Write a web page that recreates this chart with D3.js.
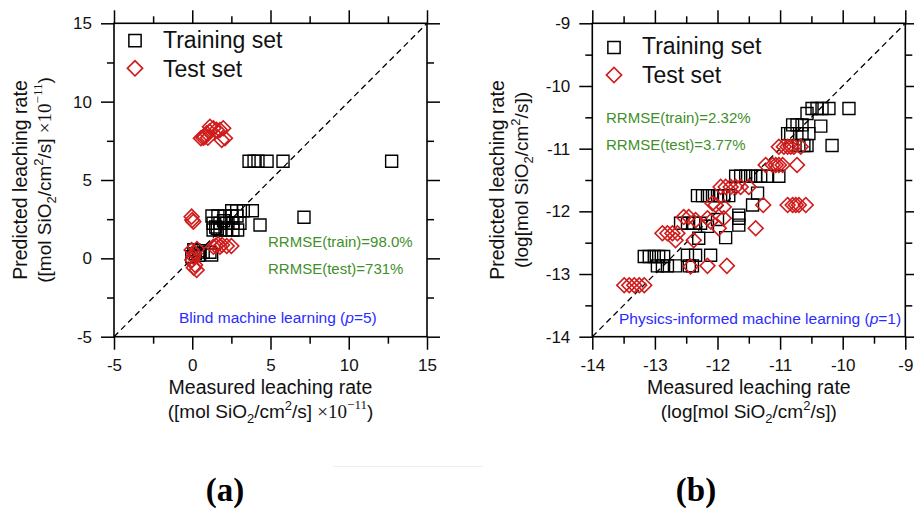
<!DOCTYPE html>
<html>
<head>
<meta charset="utf-8">
<script src="https://cdn.jsdelivr.net/npm/d3@7"></script>
<style>
  body { margin: 0; background: #fff; }
  svg { font-family: Arial, "Liberation Sans", sans-serif; }
</style>
</head>
<body>
<script>
// ---- data ----
const leftTicks = [-5, 0, 5, 10, 15];
const leftMinor = [-2.5, 2.5, 7.5, 12.5];
const rightTicks = [-14, -13, -12, -11, -10, -9];
const rightMinor = [-13.5, -12.5, -11.5, -10.5, -9.5];

// (a) blind machine learning
const aTrainX = [3.63, 3.95, 4.2, 4.78, 5.8, 12.74, 7.14, 4.33, 3.84, 2.52, 2.84, 3.26,
  1.26, 1.64, 2.09, 2.54, 2.86, 1.33, 1.77, 2.2, 2.6, 3.05, 1.33, 1.77, 2.2, 2.6, 2.9,
  1.5, 2.0, 1.6, 0.5, 1.13, -0.03, 0.2, 0.1, 0.4, 1.24, 0.7];
const aTrainY = [6.2, 6.2, 6.2, 6.2, 6.2, 6.2, 2.62, 2.13, 3.04, 3.04, 3.04, 3.04,
  2.7, 2.7, 2.7, 2.7, 2.7, 2.24, 2.24, 2.24, 2.24, 2.24, 1.81, 1.81, 1.81, 1.81, 1.81,
  2.0, 2.4, 1.9, 0.49, 0.39, 0.1, 0.3, 0.55, 0.2, 0.21, 0.4];
const aTestX = [0.55, 0.7, 0.92, 0.8, 1.1, 1.35, 1.13, 1.77, 1.98, 2.09, 1.88, 1.55, 1.0,
  -0.04, 0.07, 0.0,
  1.35, 1.5, 1.65, 1.77, 1.9, 2.2, 2.5,
  -0.04, 0.07, 0.18, 0.28, 0.0, 0.15, 0.3, 0.1];
const aTestY = [7.66, 7.7, 7.98, 7.75, 8.1, 8.3, 8.4, 8.19, 8.3, 7.66, 7.55, 8.2, 7.7,
  2.66, 2.34, 2.45,
  0.74, 0.8, 0.9, 0.74, 0.85, 0.79, 0.79,
  0.53, 0.1, -0.42, -0.74, -0.1, 0.3, 0.6, -0.6];

// (b) physics-informed machine learning
const bTrainX = [-9.9, -10.17, -10.49, -10.41, -10.33, -10.22, -10.57, -10.35,
  -10.8, -10.73, -10.65, -10.88, -10.83, -10.65, -10.54, -10.62, -10.57, -10.7,
  -11.71, -11.63, -11.55, -11.47, -11.39, -11.31, -11.2, -11.02, -11.36,
  -12.32, -12.24, -12.16, -12.08, -12.0, -11.95, -11.9, -11.82,
  -11.44, -11.66, -11.66, -11.66, -12.0, -12.16, -12.3, -11.87,
  -12.59, -12.48, -12.38, -12.27,
  -13.17, -13.09, -13.01, -12.94, -12.86,
  -12.96, -12.88, -12.8, -12.67, -12.11, -12.48, -12.35, -12.45, -12.4];
const bTrainY = [-10.36, -10.95, -10.36, -10.36, -10.36, -10.36, -10.44, -10.64,
  -10.62, -10.62, -10.62, -10.76, -10.76, -10.76, -10.76, -10.95, -10.95, -10.95,
  -11.44, -11.44, -11.44, -11.44, -11.44, -11.44, -11.44, -11.44, -11.71,
  -11.75, -11.75, -11.75, -11.75, -11.75, -11.75, -11.75, -11.75,
  -11.9, -12.06, -12.11, -12.22, -12.13, -12.24, -12.43, -12.42,
  -12.19, -12.19, -12.19, -12.19,
  -12.72, -12.72, -12.72, -12.72, -12.72,
  -12.87, -12.87, -12.87, -12.87, -12.7, -12.7, -12.7, -12.87, -12.87];
const bTestX = [-13.49, -13.41, -13.33, -13.25, -13.17,
  -12.88, -12.8, -12.72, -12.64, -12.67,
  -12.43, -12.16, -11.85, -12.38,
  -12.54, -12.46, -12.35, -12.16, -12.11, -12.08, -12.03, -11.9, -11.98, -11.9,
  -11.39, -11.27,
  -11.95, -11.87, -11.79, -11.71, -11.63, -11.5,
  -11.23, -11.12, -11.07, -11.02, -10.96, -10.73,
  -11.02, -10.94, -10.88, -10.83, -10.78, -10.67,
  -10.88, -10.8, -10.75, -10.7, -10.59];
const bTestY = [-13.18, -13.18, -13.18, -13.18, -13.18,
  -12.35, -12.35, -12.35, -12.35, -12.46,
  -12.88, -12.87, -12.87, -12.46,
  -12.09, -12.09, -12.14, -12.11, -12.16, -11.87, -11.9, -11.93, -12.27, -12.11,
  -12.27, -11.9,
  -11.61, -11.61, -11.61, -11.61, -11.61, -11.61,
  -11.26, -11.26, -11.26, -11.26, -11.26, -11.26,
  -10.97, -10.97, -10.97, -10.97, -10.97, -10.97,
  -11.9, -11.9, -11.9, -11.9, -11.9];

const legendLabels = ["Training set", "Test set"];
const green = "#3f8f2a", blue = "#2b2bff", red = "#d01c1c";

const svg = d3.select("body").append("svg")
  .attr("width", 914).attr("height", 509);

function panel(opt) {
  const g = svg.append("g");
  const x = d3.scaleLinear().domain(opt.domain).range([opt.left, opt.left + 313]);
  const y = d3.scaleLinear().domain(opt.domain).range([opt.top + 313.4, opt.top]);
  const bottom = opt.top + 313.4, right = opt.left + 313;

  const axes = [
    [d3.axisBottom(x), `translate(0,${bottom})`, true],
    [d3.axisTop(x), `translate(0,${opt.top})`, false],
    [d3.axisLeft(y), `translate(${opt.left},0)`, true],
    [d3.axisRight(y), `translate(${right},0)`, false]
  ];
  axes.forEach(([ax, tr, labels]) => {
    const major = g.append("g").attr("transform", tr)
      .call(ax.tickValues(opt.ticks).tickSize(13).tickSizeOuter(0)
        .tickPadding(labels ? 9 : 0).tickFormat(labels ? (d => String(d)) : ""));
    major.select(".domain").remove();
    major.selectAll("line").attr("stroke-width", 1.5);
    major.selectAll("text").attr("font-size", 17).attr("fill", "#111")
      .attr("font-family", "Arial, 'Liberation Sans', sans-serif");
    const minor = g.append("g").attr("transform", tr)
      .call(ax.tickValues(opt.minor).tickSize(7).tickFormat(""));
    minor.select(".domain").remove();
    minor.selectAll("line").attr("stroke-width", 1.5);
  });

  g.append("rect").attr("x", opt.left).attr("y", opt.top)
    .attr("width", 313).attr("height", 313.4)
    .attr("fill", "none").attr("stroke", "#000").attr("stroke-width", 1.6);

  g.append("line")
    .attr("x1", x(opt.domain[0])).attr("y1", y(opt.domain[0]))
    .attr("x2", x(opt.domain[1])).attr("y2", y(opt.domain[1]))
    .attr("stroke", "#000").attr("stroke-width", 1.3).attr("stroke-dasharray", "6,4");

  const sq = d3.symbol(d3.symbolSquare, 144)();
  const dm = d3.symbol(d3.symbolSquare, 110)();

  g.append("g").selectAll("path").data(d3.range(opt.trainX.length)).join("path")
    .attr("d", sq)
    .attr("transform", i => `translate(${x(opt.trainX[i])},${y(opt.trainY[i])})`)
    .attr("fill", "none").attr("stroke", "#000").attr("stroke-width", 1.4);
  g.append("g").selectAll("path").data(d3.range(opt.testX.length)).join("path")
    .attr("d", dm)
    .attr("transform", i => `translate(${x(opt.testX[i])},${y(opt.testY[i])}) rotate(45)`)
    .attr("fill", "none").attr("stroke", red).attr("stroke-width", 1.6);

  // legend
  const lg = g.append("g");
  legendLabels.forEach((lab, i) => {
    lg.append("path")
      .attr("d", i === 0 ? d3.symbol(d3.symbolSquare, 150)() : d3.symbol(d3.symbolSquare, 115)())
      .attr("transform", `translate(${opt.legX},${opt.legY[i]})` + (i ? " rotate(45)" : ""))
      .attr("fill", "none").attr("stroke", i ? red : "#000").attr("stroke-width", i ? 1.7 : 1.5);
    lg.append("text").attr("x", opt.legX + 28).attr("y", opt.legBase[i])
      .attr("font-size", 23).attr("fill", "#111").text(lab);
  });

  opt.stats.forEach((s, i) => {
    g.append("text").attr("x", opt.statX).attr("y", opt.statY[i])
      .attr("font-size", 15).attr("fill", green).text(s);
  });

  const note = g.append("text").attr("x", opt.noteX).attr("y", opt.noteY)
    .attr("font-size", 15.5).attr("fill", blue);
  note.append("tspan").text(opt.note + " (");
  note.append("tspan").attr("font-style", "italic").text("p");
  note.append("tspan").text(opt.noteP + ")");

  // axis titles
  const cx = opt.left + 156.5, cy = opt.top + 156.7;
  g.append("text").attr("x", cx).attr("y", 394).attr("text-anchor", "middle")
    .attr("font-size", 19.5).attr("fill", "#111").text("Measured leaching rate");
  opt.unit(g.append("text").attr("x", cx).attr("y", 418).attr("text-anchor", "middle")
    .attr("font-size", 19).attr("fill", "#111"));

  g.append("text").attr("transform", `translate(${opt.yTitleX},${cy}) rotate(-90)`)
    .attr("text-anchor", "middle").attr("font-size", 19.5).attr("fill", "#111")
    .text("Predicted leaching rate");
  opt.unit(g.append("text").attr("transform", `translate(${opt.yTitleX + 24},${cy}) rotate(-90)`)
    .attr("text-anchor", "middle").attr("font-size", 19).attr("fill", "#111"));

  g.append("text").attr("x", opt.tagX).attr("y", 501).attr("text-anchor", "middle")
    .attr("font-family", "'Liberation Serif', 'Times New Roman', serif")
    .attr("font-weight", "bold").attr("font-size", 33).attr("fill", "#000")
    .text(opt.tag);
}

function unitA(t) {
  t.append("tspan").text("([mol SiO");
  t.append("tspan").attr("font-size", 13).attr("dy", 5).text("2");
  t.append("tspan").attr("dy", -5).text("/cm");
  t.append("tspan").attr("font-size", 13).attr("dy", -8).text("2");
  t.append("tspan").attr("dy", 8).text("/s] ");
  t.append("tspan").attr("font-family", "'Liberation Serif', 'Times New Roman', serif")
    .text("\u00d710");
  t.append("tspan").attr("font-family", "'Liberation Serif', 'Times New Roman', serif")
    .attr("font-size", 13).attr("dy", -9).text("\u221211");
  t.append("tspan").attr("dy", 9).text(")");
}

function unitB(t) {
  t.append("tspan").text("(log[mol SiO");
  t.append("tspan").attr("font-size", 13).attr("dy", 5).text("2");
  t.append("tspan").attr("dy", -5).text("/cm");
  t.append("tspan").attr("font-size", 13).attr("dy", -8).text("2");
  t.append("tspan").attr("dy", 8).text("/s])");
}

panel({
  left: 114, top: 23.3, domain: [-5, 15], ticks: leftTicks, minor: leftMinor,
  trainX: aTrainX, trainY: aTrainY, testX: aTestX, testY: aTestY,
  legX: 135, legY: [40.7, 68.3], legBase: [48, 76.5],
  stats: ["RRMSE(train)=98.0%", "RRMSE(test)=731%"], statX: 268, statY: [247, 274],
  note: "Blind machine learning", noteP: "=5", noteX: 179, noteY: 322.5,
  yTitleX: 27, unit: unitA, tag: "(a)", tagX: 225
});

panel({
  left: 592.3, top: 23.3, domain: [-14, -9], ticks: rightTicks, minor: rightMinor,
  trainX: bTrainX, trainY: bTrainY, testX: bTestX, testY: bTestY,
  legX: 614, legY: [47.5, 75], legBase: [54, 83],
  stats: ["RRMSE(train)=2.32%", "RRMSE(test)=3.77%"], statX: 606, statY: [123, 150],
  note: "Physics-informed machine learning", noteP: "=1", noteX: 619, noteY: 324,
  yTitleX: 504, unit: unitB, tag: "(b)", tagX: 696
});

// faint separator line under the panels
svg.append("line").attr("x1", 333).attr("x2", 483).attr("y1", 466.5).attr("y2", 466.5)
  .attr("stroke", "#eeeeee").attr("stroke-width", 1);
</script>
</body>
</html>
